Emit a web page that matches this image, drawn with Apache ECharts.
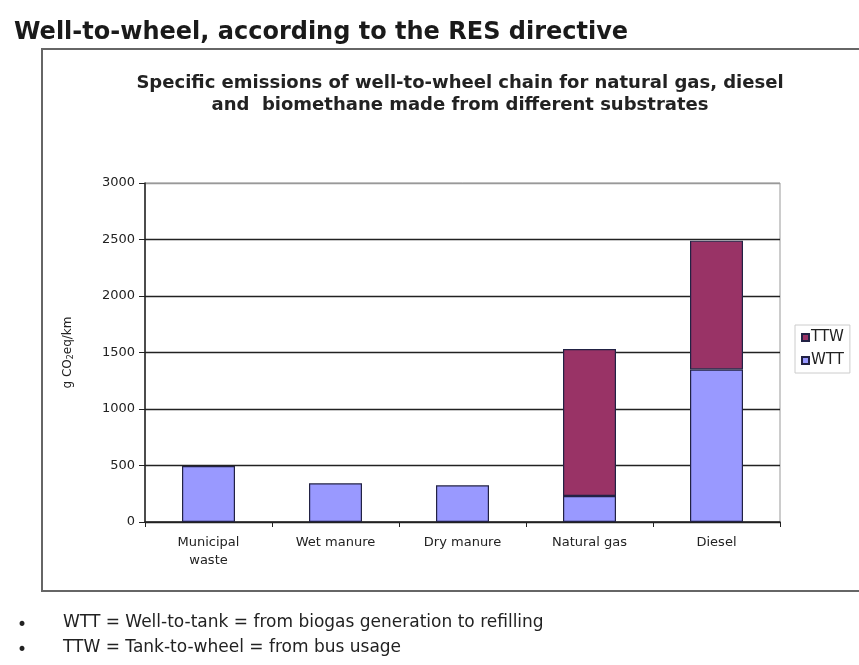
<!DOCTYPE html>
<html>
<head>
<meta charset="utf-8">
<script src="https://cdn.jsdelivr.net/npm/echarts@6/dist/echarts.min.js"></script>
<style>
  html, body { margin: 0; padding: 0; background: #fff; }
  #chart { width: 859px; height: 665px; }
</style>
</head>
<body>
<div id="chart"></div>
<script>
// 数据
const categories = ['Municipal\nwaste', 'Wet manure', 'Dry manure', 'Natural gas', 'Diesel'];
const wttValues = [495, 342, 325, 230, 1350];
const ttwValues = [0, 0, 0, 1300, 1140];
const yTicks = [0, 500, 1000, 1500, 2000, 2500, 3000];

const FontColor = '#222'; // 文字颜色
const wttColor = '#9999FF';
const ttwColor = '#993366';

const myChart = echarts.init(document.getElementById('chart'));

const option = {
    backgroundColor: '#fff',
    animation: false,
    title: [{
        text: 'Well-to-wheel, according to the RES directive',
        left: 9,
        top: 16,
        textStyle: { fontFamily: 'DejaVu Sans', fontSize: 24, fontWeight: 'bold', color: '#1a1a1a' }
    }, {
        text: 'Specific emissions of well-to-wheel chain for natural gas, diesel\nand  biomethane made from different substrates',
        left: 455,
        textAlign: 'center',
        top: 67,
        textStyle: { fontFamily: 'DejaVu Sans', fontSize: 18, fontWeight: 'bold', color: '#222', lineHeight: 22 }
    }],
    legend: {
        orient: 'vertical',
        left: 795,
        top: 325,
        itemWidth: 7,
        itemHeight: 7,
        itemGap: 8,
        padding: [5, 6, 5, 6],
        borderColor: '#ccc',
        borderWidth: 1,
        icon: 'rect',
        data: ['TTW', 'WTT'],
        textStyle: { fontFamily: 'DejaVu Sans', fontSize: 15, color: FontColor, padding: [0, 0, 0, -3] }
    },
    grid: {
        left: 145,
        top: 183,
        right: 79,
        bottom: 143,
        show: true,
        borderColor: '#999',
        borderWidth: 1,
        containLabel: false
    },
    xAxis: {
        type: 'category',
        data: categories,
        axisLine: { lineStyle: { color: '#222', width: 1.5 } },
        axisTick: { show: true, length: 5, lineStyle: { color: '#222' } },
        axisLabel: { color: FontColor, fontFamily: 'DejaVu Sans', fontSize: 13, margin: 12, lineHeight: 18 }
    },
    yAxis: {
        type: 'value',
        min: 0,
        max: 3000,
        interval: 500,
        name: 'g CO{s|2}eq/km',
        nameLocation: 'middle',
        nameGap: 70,
        nameTextStyle: {
            fontFamily: 'DejaVu Sans', fontSize: 12, color: FontColor,
            rich: { s: { fontFamily: 'DejaVu Sans', fontSize: 8, verticalAlign: 'bottom', padding: [6, 0, 0, 0] } }
        },
        axisLine: { show: true, lineStyle: { color: '#222', width: 1.5 } },
        axisTick: { show: true, length: 6, lineStyle: { color: '#222' } },
        axisLabel: {
            color: FontColor, fontFamily: 'DejaVu Sans', fontSize: 13, margin: 10,
            formatter: v => yTicks.includes(v) ? String(v) : ''
        },
        splitLine: {
            show: true,
            lineStyle: { color: ['#222', '#222', '#222', '#222', '#222', '#222', '#999'], width: 1.3 }
        }
    },
    series: [{
        name: 'WTT',
        type: 'bar',
        stack: 'total',
        data: wttValues,
        barWidth: 53,
        itemStyle: { color: wttColor, borderColor: '#222244', borderWidth: 1.2 }
    }, {
        name: 'TTW',
        type: 'bar',
        stack: 'total',
        data: ttwValues.map(v => v === 0 ? null : v),
        barWidth: 53,
        itemStyle: { color: ttwColor, borderColor: '#222244', borderWidth: 1.2 }
    }],
    graphic: [{
        type: 'rect',
        shape: { x: 42, y: 49, width: 840, height: 542 },
        style: { fill: 'none', stroke: '#666', lineWidth: 2 },
        z: -1
    }, {
        type: 'text',
        x: 17,
        y: 626,
        style: { text: '•', fontFamily: 'DejaVu Sans', fontSize: 17, fill: '#222', verticalAlign: 'middle' }
    }, {
        type: 'text',
        x: 63,
        y: 623,
        style: { text: 'WTT = Well-to-tank = from biogas generation to refilling', fontFamily: 'DejaVu Sans', fontSize: 17, fill: '#222', verticalAlign: 'middle' }
    }, {
        type: 'text',
        x: 17,
        y: 651,
        style: { text: '•', fontFamily: 'DejaVu Sans', fontSize: 17, fill: '#222', verticalAlign: 'middle' }
    }, {
        type: 'text',
        x: 63,
        y: 648,
        style: { text: 'TTW = Tank-to-wheel = from bus usage', fontFamily: 'DejaVu Sans', fontSize: 17, fill: '#222', verticalAlign: 'middle' }
    }]
};

myChart.setOption(option);
</script>
</body>
</html>
